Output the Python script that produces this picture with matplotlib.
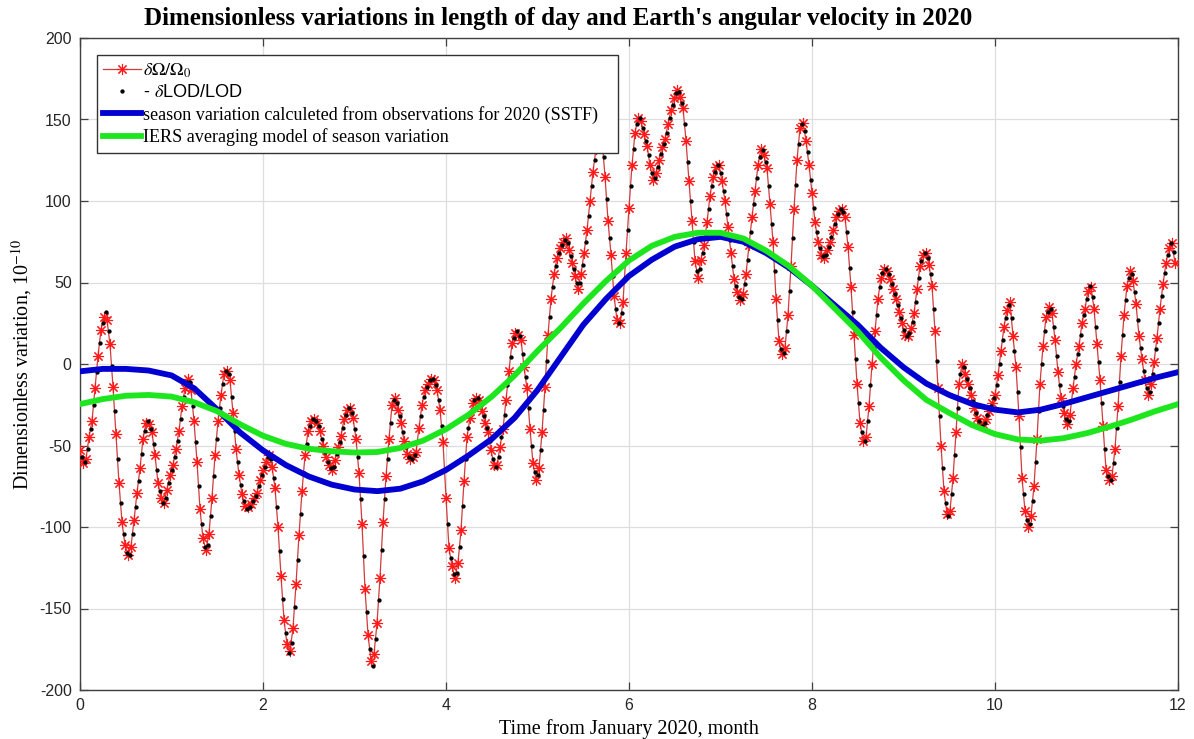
import numpy as np
import matplotlib

matplotlib.use("Agg")
import matplotlib.pyplot as plt

plt.rcParams["mathtext.fontset"] = "stix"
plt.rcParams["axes.unicode_minus"] = False

# daily dOmega/Omega0 values (1e-10), day 0 = 1 Jan 2020
omega = [
    -53, -61, -58, -45, -35, -15, 5, 21, 29, 27,
    12, -14, -43, -73, -97, -111, -117, -112, -96, -79,
    -64, -46, -36, -37, -42, -56, -73, -82, -85, -77,
    -68, -62, -52, -41, -26, -15, -9, -16, -35, -60,
    -89, -107, -114, -104, -82, -56, -35, -19, -6, -4,
    -10, -30, -52, -68, -80, -87, -88, -86, -82, -79,
    -71, -65, -60, -56, -63, -76, -100, -130, -157, -172,
    -176, -162, -135, -105, -78, -56, -41, -35, -34, -36,
    -41, -50, -57, -62, -65, -59, -51, -44, -34, -28,
    -27, -33, -46, -67, -98, -138, -166, -182, -178, -159,
    -131, -97, -69, -46, -25, -21, -28, -36, -47, -55,
    -58, -57, -54, -39, -25, -16, -12, -9, -10, -16,
    -28, -48, -82, -113, -124, -131, -122, -102, -72, -45,
    -33, -24, -21, -22, -29, -36, -42, -53, -62, -62,
    -51, -40, -22, -4, 13, 19, 18, 15, -2, -15,
    -40, -61, -71, -64, -42, -14, 18, 40, 55, 65,
    71, 75, 77, 70, 62, 54, 46, 55, 68, 82,
    100, 118, 132, 140, 138, 115, 88, 67, 42, 27,
    25, 38, 68, 96, 122, 142, 151, 149, 141, 134,
    122, 113, 117, 125, 133, 138, 147, 156, 163, 168,
    164, 157, 137, 112, 88, 63, 53, 64, 73, 87,
    103, 115, 121, 122, 112, 100, 84, 68, 52, 44,
    39, 43, 55, 73, 90, 106, 122, 132, 128, 120,
    98, 75, 40, 14, 6, 10, 30, 60, 95, 125,
    145, 148, 137, 122, 105, 87, 75, 67, 65, 70,
    75, 82, 90, 94, 95, 90, 72, 47, 18, -12,
    -36, -47, -45, -26, 0, 20, 40, 53, 58, 57,
    52, 46, 40, 32, 25, 18, 17, 22, 31, 46,
    60, 67, 68, 61, 48, 20, -15, -50, -78, -92,
    -90, -70, -42, -12, 0, -6, -12, -19, -27, -33,
    -37, -37, -34, -29, -24, -19, -7, 8, 23, 33,
    38, 17, -2, -32, -70, -90, -100, -93, -75, -46,
    -12, 11, 29, 35, 31, 15, -5, -21, -30, -37,
    -31, -15, 0, 11, 25, 34, 45, 47, 34, 12,
    -10, -38, -65, -71, -69, -52, -26, 5, 30, 48,
    57, 51, 37, 17, 3, -10, -19, -12, 1, 16,
    34, 49, 62, 71, 74, 62,
]

# -dLOD/LOD, sampled at midday (day + 0.5)
lod = [
    -57, -60, -52, -40, -25, -5, 13, 25, 32, 20,
    -1, -29, -58, -85, -104, -116, -117, -104, -88, -72,
    -55, -41, -35, -40, -49, -65, -78, -85, -82, -73,
    -65, -57, -47, -34, -20, -11, -11, -26, -48, -75,
    -98, -112, -111, -93, -69, -46, -27, -12, -4, -6,
    -20, -41, -60, -74, -84, -89, -88, -84, -81, -75,
    -68, -63, -57, -58, -70, -88, -115, -144, -165, -177,
    -171, -149, -120, -92, -67, -49, -38, -34, -35, -38,
    -46, -54, -60, -64, -63, -55, -48, -39, -31, -27,
    -30, -40, -57, -83, -118, -152, -175, -185, -169, -145,
    -114, -83, -58, -36, -22, -24, -32, -42, -51, -57,
    -58, -56, -47, -32, -20, -14, -10, -9, -13, -22,
    -38, -65, -98, -119, -129, -128, -112, -87, -58, -39,
    -28, -22, -21, -25, -32, -39, -47, -58, -63, -57,
    -45, -31, -13, 4, 16, 20, 17, 6, -8, -27,
    -50, -66, -68, -53, -28, 2, 29, 47, 60, 68,
    73, 76, 74, 66, 58, 50, 50, 61, 75, 91,
    109, 125, 136, 140, 127, 101, 77, 54, 34, 25,
    31, 53, 82, 109, 132, 147, 151, 145, 137, 128,
    117, 114, 121, 129, 135, 142, 151, 159, 166, 167,
    160, 147, 124, 100, 75, 57, 58, 68, 80, 95,
    109, 118, 122, 117, 106, 92, 76, 60, 48, 41,
    40, 49, 64, 81, 98, 114, 127, 131, 124, 109,
    86, 57, 27, 9, 7, 20, 45, 77, 110, 135,
    147, 143, 130, 113, 96, 81, 71, 66, 67, 72,
    78, 86, 92, 95, 93, 81, 59, 32, 3, -24,
    -42, -47, -35, -13, 10, 30, 47, 56, 58, 55,
    49, 43, 36, 28, 21, 17, 19, 26, 38, 53,
    63, 68, 65, 55, 34, 2, -32, -64, -85, -93,
    -80, -56, -27, -6, -2, -9, -15, -23, -30, -35,
    -38, -36, -31, -26, -21, -13, 0, 15, 28, 36,
    28, 8, -17, -51, -80, -96, -98, -84, -60, -29,
    0, 20, 32, 34, 23, 5, -13, -26, -34, -35,
    -23, -8, 6, 18, 30, 40, 48, 41, 23, 1,
    -24, -52, -69, -71, -61, -39, -11, 18, 39, 53,
    55, 44, 27, 10, -4, -15, -17, -6, 9, 25,
    42, 56, 67, 74, 69,
]

# seasonal curves, every quarter month
season_month = [
    0, 0.25, 0.5, 0.75, 1, 1.25, 1.5, 1.75, 2, 2.25, 2.5, 2.75,
    3, 3.25, 3.5, 3.75, 4, 4.25, 4.5, 4.75, 5, 5.25, 5.5, 5.75,
    6, 6.25, 6.5, 6.75, 7, 7.25, 7.5, 7.75, 8, 8.25, 8.5, 8.75,
    9, 9.25, 9.5, 9.75, 10, 10.25, 10.5, 10.75, 11, 11.25, 11.5, 11.75, 12,
]
sstf = [
    -4.5, -3, -3, -4, -7, -15, -28, -42, -53, -62, -69, -74,
    -77, -78, -76.5, -72, -65, -56, -46, -33, -16, 4, 24, 40,
    54, 64, 72, 76.5, 78, 75, 68, 59, 48, 36, 24, 10,
    -2, -12, -19, -24.5, -28, -29.7, -28, -24.5, -20.5, -16.5, -12.5, -8.5, -5,
]
iers = [
    -24.6, -21.5, -19.5, -19, -20, -23.5, -29, -37, -44, -49, -52, -53.5,
    -54.3, -54, -51.5, -47, -40, -31, -20, -7, 8, 22, 37, 51,
    63.5, 72.5, 78, 80.5, 80.5, 77, 69.5, 60, 48, 34, 20, 4,
    -10, -22, -30, -37.5, -43, -46.3, -47, -45.5, -42.5, -38.5, -34, -29, -24.6,
]

DAYS_PER_MONTH = 30.5

fig = plt.figure(figsize=(11.94, 7.39), dpi=100)
ax = fig.add_axes([80 / 1194, 1 - 690 / 739, 1098 / 1194, 652 / 739])

t_omega = np.arange(len(omega)) / DAYS_PER_MONTH
t_lod = (np.arange(len(lod)) + 0.5) / DAYS_PER_MONTH

ax.plot(t_omega, omega, color="#d03c3c", lw=0.9, marker=(8, 2, 0), ms=8,
        mec="#ff1a1a", mew=0.8, label=r"$\delta\Omega/\Omega_0$", zorder=3)
ax.plot(t_lod, lod, ls="none", marker="o", ms=2.1, color="black",
        label=r"- $\delta$LOD/LOD", zorder=4)
ax.plot(season_month, sstf, color="#0000d0", lw=4.2,
        label="season variation calculeted from observations for 2020 (SSTF)   ", zorder=5)
ax.plot(season_month, iers, color="#1ee61e", lw=4.2,
        label="IERS averaging model of season variation", zorder=6)

ax.set_xlim(0, 12)
ax.set_ylim(-200, 200)
ax.set_xticks(range(0, 13, 2))
ax.set_yticks(range(-200, 201, 50))
ax.grid(True, color="#dedede", lw=0.9)
ax.set_axisbelow(True)
ax.tick_params(direction="in", top=True, right=True, length=6, width=0.9,
               color="#404040", labelsize=11.5, pad=6)
for lab in ax.get_xticklabels() + ax.get_yticklabels():
    lab.set_fontfamily("Liberation Sans")
    lab.set_color("#262626")
for sp in ax.spines.values():
    sp.set_color("#404040")
    sp.set_linewidth(1.0)

ax.set_xlabel("Time from January 2020, month", fontfamily="Liberation Serif",
              fontsize=14.5, labelpad=4)
ax.set_ylabel(r"Dimensionless variation, 10$^{-10}$", fontfamily="Liberation Serif",
              fontsize=14.5)
ax.yaxis.set_label_coords(-46 / 1098, 0.5)
fig.text(558 / 1194, 1 - 18 / 739, "Dimensionless variations in length of day and Earth's angular velocity in 2020",
         ha="center", va="center", fontfamily="Liberation Serif", fontweight="bold", fontsize=18)

leg = ax.legend(loc="upper left", bbox_to_anchor=(17 / 1098, 1 - 17 / 652), borderaxespad=0,
                prop={"family": "Liberation Serif", "size": 13.1}, frameon=True, fancybox=False,
                framealpha=1, edgecolor="#333333", handlelength=2.05, handletextpad=0.15,
                labelspacing=0.25, borderpad=0.35)
leg.get_frame().set_linewidth(1.0)
leg.get_texts()[1].set_fontfamily("Liberation Sans")
leg.set_zorder(10)

fig.savefig("out.png", dpi=100)
